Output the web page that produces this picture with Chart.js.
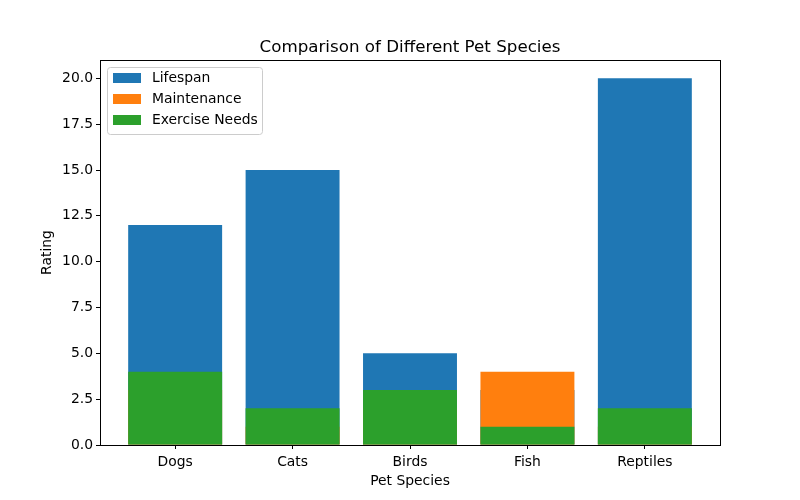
<!DOCTYPE html>
<html>
<head>
<meta charset="utf-8">
<script src="https://cdn.jsdelivr.net/npm/chart.js@4/dist/chart.umd.min.js"></script>
<style>
    html, body { margin: 0; padding: 0; background: #fff; }
    #wrap { width: 800px; height: 500px; }
</style>
</head>
<body>
<div id="wrap"><canvas id="chart" width="800" height="500"></canvas></div>
<script>
const species = ['Dogs', 'Cats', 'Birds', 'Fish', 'Reptiles'];
const lifespan = [12, 15, 5, 3, 20];
const maintenance = [3, 1, 2, 4, 1];
const exerciseNeeds = [4, 2, 3, 1, 2];
const yTicks = [0, 2.5, 5, 7.5, 10, 12.5, 15, 17.5, 20];

const font = 'DejaVu Sans';
const colors = ['#1f77b4', '#ff7f0e', '#2ca02c'];

function toPoints(values) {
    return values.map((v, i) => ({x: i, y: v}));
}

// matplotlib style frame, title and legend
const framePlugin = {
    id: 'frame',
    afterDraw(chart) {
        const ctx = chart.ctx;
        const a = chart.chartArea;
        ctx.save();
        ctx.strokeStyle = '#000';
        ctx.lineWidth = 1;
        ctx.strokeRect(Math.round(a.left) + 0.5, Math.round(a.top) + 0.5,
            Math.round(a.right - a.left), Math.round(a.bottom - a.top));

        ctx.fillStyle = '#000';
        ctx.font = '16.7px "' + font + '"';
        ctx.textAlign = 'center';
        ctx.textBaseline = 'alphabetic';
        ctx.fillText('Comparison of Different Pet Species', (a.left + a.right) / 2, a.top - 8);

        // legend
        const x0 = a.left + 7, y0 = a.top + 7;
        const w = 155, h = 67;
        ctx.beginPath();
        ctx.roundRect(x0 + 0.5, y0 + 0.5, w, h, 3);
        ctx.fillStyle = 'rgba(255,255,255,0.8)';
        ctx.fill();
        ctx.strokeStyle = '#cccccc';
        ctx.stroke();
        ctx.font = '13.9px "' + font + '"';
        ctx.textAlign = 'left';
        ctx.textBaseline = 'middle';
        chart.data.datasets.forEach((ds, i) => {
            const cy = y0 + 11 + i * 21;
            ctx.fillStyle = ds.backgroundColor;
            ctx.fillRect(x0 + 6, cy - 5, 28, 10);
            ctx.fillStyle = '#000';
            ctx.fillText(ds.label, x0 + 45, cy);
        });
        ctx.restore();
    }
};

const ctx = document.getElementById('chart').getContext('2d');

new Chart(ctx, {
    type: 'bar',
    data: {
        datasets: [
            {label: 'Lifespan', data: toPoints(lifespan), backgroundColor: colors[0], order: 3},
            {label: 'Maintenance', data: toPoints(maintenance), backgroundColor: colors[1], order: 2},
            {label: 'Exercise Needs', data: toPoints(exerciseNeeds), backgroundColor: colors[2], order: 1}
        ]
    },
    options: {
        responsive: false,
        animation: false,
        devicePixelRatio: 1,
        layout: {padding: {top: 60, right: 80, left: 0, bottom: 0}},
        datasets: {
            bar: {
                grouped: false,
                barPercentage: 0.8,
                categoryPercentage: 1,
                borderWidth: 0,
                inflateAmount: 0
            }
        },
        plugins: {
            legend: {display: false},
            title: {display: false},
            tooltip: {enabled: false}
        },
        scales: {
            x: {
                type: 'linear',
                min: -0.64,
                max: 4.64,
                offset: false,
                afterBuildTicks(scale) {
                    scale.ticks = species.map((s, i) => ({value: i}));
                },
                afterFit(scale) {
                    scale.height = 55;
                },
                ticks: {
                    color: '#000',
                    font: {family: font, size: 13.9},
                    padding: 5,
                    autoSkip: false,
                    maxRotation: 0,
                    callback: (v) => species[v]
                },
                grid: {drawOnChartArea: false, offset: false, tickLength: 4, color: '#000'},
                border: {color: '#000'},
                title: {
                    display: true,
                    text: 'Pet Species',
                    color: '#000',
                    font: {family: font, size: 13.9},
                    padding: {top: 0, bottom: 10}
                }
            },
            y: {
                min: 0,
                max: 21,
                afterBuildTicks(scale) {
                    scale.ticks = yTicks.map(v => ({value: v}));
                },
                afterFit(scale) {
                    scale.width = 100;
                },
                ticks: {
                    color: '#000',
                    font: {family: font, size: 13.9},
                    padding: 3,
                    callback: (v) => v.toFixed(1)
                },
                grid: {drawOnChartArea: false, tickLength: 4, color: '#000'},
                border: {color: '#000'},
                title: {
                    display: true,
                    text: 'Rating',
                    color: '#000',
                    font: {family: font, size: 13.9},
                    padding: {top: 39, bottom: 0}
                }
            }
        }
    },
    plugins: [framePlugin]
});
</script>
</body>
</html>
